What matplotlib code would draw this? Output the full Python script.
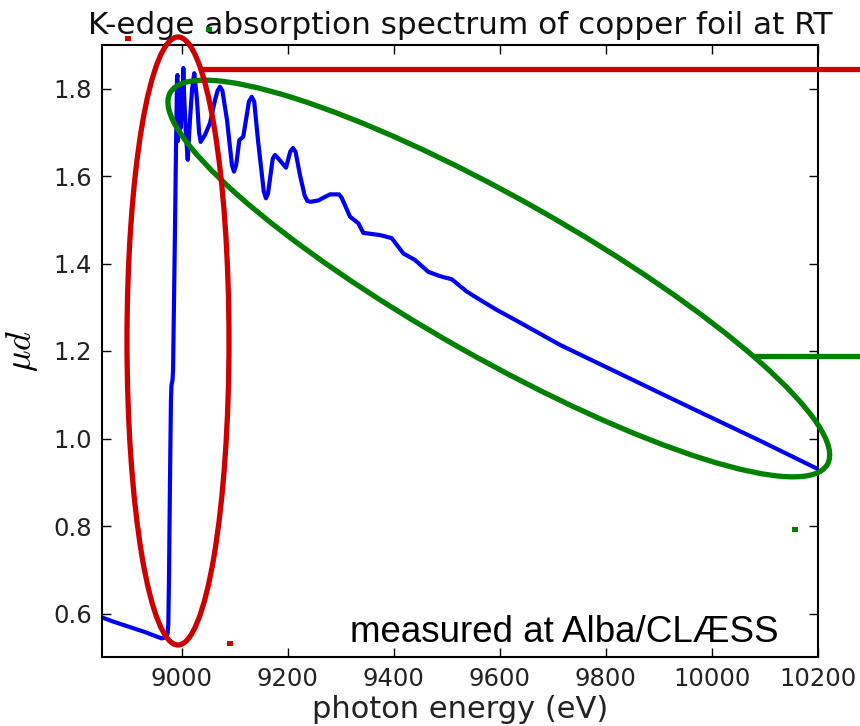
import numpy as np
import matplotlib.pyplot as plt
from matplotlib.patches import Ellipse, Rectangle
from matplotlib.lines import Line2D

plt.rcParams['mathtext.fontset'] = 'cm'

# ---------------------------
# Spectrum (eV, mu*d)
# ---------------------------
energy = [8850, 8870, 8900, 8930, 8962.6, 8968.8, 8973.5, 8975.0, 8976.3, 8978.2,
          8980.0, 8981.0, 8983.0, 8984.0, 8985.8, 8987.6, 8989.5, 8990.5, 8991.4,
          8992.2, 8993.2, 8994.5, 8995.5, 8997.0, 8998.5, 9000.0, 9001.5, 9003.3,
          9005.0, 9008.0, 9011.6, 9015.9, 9020.0, 9024.0, 9027.0, 9029.1, 9033.0,
          9036.0, 9044.2, 9053.6, 9063.0, 9068.0, 9072.5, 9077.0, 9085.7, 9095.0,
          9098.9, 9103.0, 9108.9, 9116.4, 9127.0, 9132.3, 9137.0, 9144.1, 9155.0,
          9159.2, 9163.0, 9172.0, 9176.2, 9181.0, 9196.9, 9205.0, 9210.1, 9215.0,
          9223.3, 9232.0, 9237.1, 9243.0, 9257.8, 9270.0, 9279.9, 9296.9, 9302.0,
          9308.2, 9317.6, 9333.3, 9342.7, 9374.2, 9396.2, 9418.1, 9440.2, 9465.2,
          9487.3, 9509.4, 9537.6, 9562.7, 9594.2, 9638.1, 9713.5, 9826.7, 9902.0,
          9958.7, 10090.6, 10200.0]
mu = [0.591, 0.582, 0.570, 0.558, 0.543, 0.545, 0.553, 0.574, 0.677, 0.905,
      1.088, 1.122, 1.134, 1.157, 1.317, 1.477, 1.659, 1.740, 1.820,
      1.831, 1.680, 1.780, 1.700, 1.810, 1.710, 1.800, 1.730, 1.847,
      1.780, 1.700, 1.637, 1.729, 1.800, 1.835, 1.800, 1.773, 1.700,
      1.678, 1.694, 1.721, 1.773, 1.795, 1.804, 1.795, 1.728, 1.625,
      1.610, 1.625, 1.682, 1.690, 1.770, 1.781, 1.770, 1.682, 1.565,
      1.549, 1.560, 1.640, 1.648, 1.642, 1.619, 1.656, 1.664, 1.655,
      1.602, 1.556, 1.543, 1.541, 1.544, 1.552, 1.558, 1.558, 1.550,
      1.533, 1.507, 1.492, 1.470, 1.465, 1.458, 1.423, 1.408, 1.381,
      1.371, 1.364, 1.336, 1.317, 1.294, 1.265, 1.214, 1.148, 1.104,
      1.071, 0.995, 0.930]

xticks = [9000, 9200, 9400, 9600, 9800, 10000, 10200]
yticks = [0.6, 0.8, 1.0, 1.2, 1.4, 1.6, 1.8]

# ---------------------------
# Overlay marks, in figure pixels (x right, y down)
# ---------------------------
W, H = 860, 726
RED = '#cc0000'
GREEN = '#008000'
red_ell = dict(cx=178, cy=341, w=102, h=608, angle=0)
green_ell = dict(cx=498.8, cy=278.5, w=755, h=159, angle=-29.5)
red_hline = ((205, 860), 69)
green_hline = ((757, 860), 356)
red_dots = [(128, 38), (230, 643)]
green_dots = [(209, 29), (795, 529)]


def px(x, y):
    return x / 100.0, (H - y) / 100.0


fig = plt.figure(figsize=(W / 100, H / 100), dpi=100)
fig.subplots_adjust(left=102 / W, right=818 / W, bottom=1 - 657.25 / H, top=1 - 44.75 / H)
ax = fig.add_subplot(111)

ax.plot(energy, mu, color='#0000ee', lw=3, solid_joinstyle='round')

ax.set_xlim(8850, 10200)
ax.set_ylim(0.5, 1.9)
ax.set_xticks(xticks)
ax.set_yticks(yticks)
ax.ticklabel_format(useOffset=False)
ax.tick_params(direction='in', top=True, right=True, length=6.5, width=1,
               labelsize=17.5, pad=7, labelcolor='#222222')
for s in ax.spines.values():
    s.set_linewidth(1.5)

ax.set_title("K-edge absorption spectrum of copper foil at RT", fontsize=22.4, pad=8,
             color='#111111')
ax.set_xlabel("photon energy (eV)", fontsize=22, labelpad=3, color='#222222')
ax.set_ylabel(r"$\mu d$", fontsize=26, labelpad=10)

fig.text(350 / W, 1 - 641.7 / H, "measured at Alba/CLÆSS", family='Liberation Sans',
         fontsize=26.5, ha='left', va='baseline')

# annotation overlay
tr = fig.dpi_scale_trans
for e, c in [(green_ell, GREEN), (red_ell, RED)]:
    fig.add_artist(Ellipse(px(e['cx'], e['cy']), e['w'] / 100, e['h'] / 100,
                           angle=e['angle'], transform=tr, fill=False,
                           edgecolor=c, lw=3.8))
for (x0, x1), y, c in [(green_hline[0], green_hline[1], GREEN), (red_hline[0], red_hline[1], RED)]:
    p0, p1 = px(x0, y), px(x1, y)
    fig.add_artist(Line2D([p0[0], p1[0]], [p0[1], p1[1]], transform=tr, color=c, lw=3.8))
for pts, c in [(red_dots, RED), (green_dots, GREEN)]:
    for x, y in pts:
        cx, cy = px(x, y)
        fig.add_artist(Rectangle((cx - 0.03, cy - 0.025), 0.06, 0.05, transform=tr,
                                 color=c, lw=0))

fig.savefig("out.png", dpi=100)
